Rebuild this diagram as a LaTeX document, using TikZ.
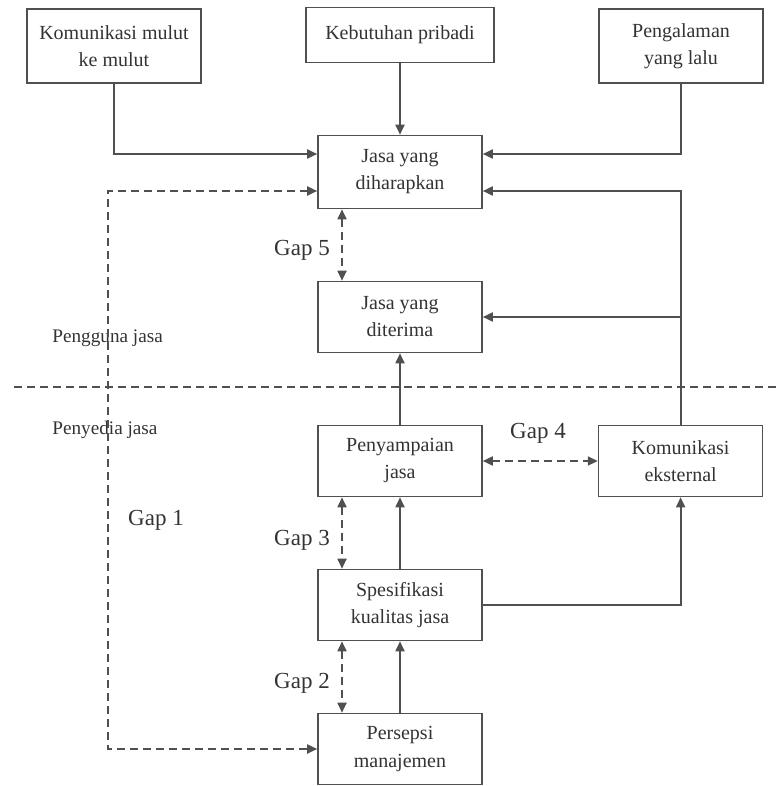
\documentclass[tikz,border=0pt]{standalone}
\usepackage{fontspec}
\setmainfont{Liberation Serif}
\usetikzlibrary{positioning,arrows.meta}
\definecolor{ink}{HTML}{333333}
\definecolor{garis}{HTML}{505050}

\begin{document}
\begin{tikzpicture}[
  x=0.5pt, y=-0.5pt,
  font=\fontsize{10}{13.5}\selectfont,
  >={Triangle[length=5pt, width=4.5pt]},
  node distance=35.7pt,
  box/.style  ={draw=garis, line width=0.8pt, fill=white, text=ink, align=center,
                minimum width=82pt, minimum height=35.5pt, inner sep=2pt},
  flow/.style ={->, draw=garis, line width=0.9pt},
  gapflow/.style={<->, draw=garis, line width=0.9pt, dash pattern=on 4pt off 2.5pt},
  divider/.style={draw=garis, line width=0.8pt, dash pattern=on 4pt off 2.5pt},
  gaplbl/.style={text=ink, font=\fontsize{11.5}{13}\selectfont, inner sep=0pt},
  side/.style ={text=ink, font=\fontsize{9.6}{12}\selectfont, anchor=west, inner sep=0pt},
]
  \useasboundingbox (0,0) rectangle (776,786);

  % --- kolom tengah ---
  \node[box, minimum height=36.5pt] (harap) at (400,172) {Jasa yang\\diharapkan};
  \node[box, below=of harap]  (terima)   {Jasa yang\\diterima};
  \node[box, below=of terima] (sampai)   {Penyampaian\\jasa};
  \node[box, below=of sampai] (spek)     {Spesifikasi\\kualitas jasa};
  \node[box, below=of spek]   (persepsi) {Persepsi\\manajemen};
  \node[box, above=of harap, minimum width=94pt, minimum height=27.5pt] (keb) {Kebutuhan pribadi};

  % --- kotak samping ---
  \node[box, minimum width=87pt, minimum height=37pt] (kom)  at (114,46) {Komunikasi mulut\\ke mulut};
  \node[box, minimum height=37pt] (peng) at (681,46) {Pengalaman\\yang lalu};
  \node[box, right=57.5pt of sampai] (ekst) {Komunikasi\\eksternal};

  % --- garis batas ---
  \coordinate (divL) at (14,387);
  \coordinate (divR) at (776,387);
  \draw[divider] (divL) -- (divR);
  \node[side] (pengguna) at (52,338) {Pengguna jasa};
  \node[side] (penyedia) at (52,430) {Penyedia jasa};

  % --- panah ---
  \draw[flow] (keb) -- (harap);
  \draw[flow] (kom.south) |- ([yshift=9pt]harap.west);
  \draw[flow] (peng.south) |- ([yshift=9pt]harap.east);
  \draw[flow] (ekst.north) |- ([yshift=-9.5pt]harap.east);
  \draw[flow] (ekst.north |- terima.east) -- (terima.east);
  \draw[flow] (sampai) -- (terima);
  \draw[flow] (spek) -- (sampai);
  \draw[flow] (persepsi) -- (spek);
  \draw[flow] (spek.east) -| (ekst.south);

  % --- gap ---
  \coordinate (gapline) at (108,0);
  \draw[gapflow] ([yshift=-9.5pt]harap.west) -| (gapline |- persepsi.west) -- (persepsi.west);
  \draw[gapflow] ([xshift=-29pt]harap.south) -- ([xshift=-29pt]terima.north);
  \draw[gapflow] ([xshift=-29pt]sampai.south) -- ([xshift=-29pt]spek.north);
  \draw[gapflow] ([xshift=-29pt]spek.south) -- ([xshift=-29pt]persepsi.north);
  \draw[gapflow] (sampai.east) -- (ekst.west);
  \node[gaplbl] (gap1) at (156,520) {Gap 1};
  \node[gaplbl] (gap2) at (302,683) {Gap 2};
  \node[gaplbl] (gap3) at (302,540) {Gap 3};
  \node[gaplbl] (gap4) at (538,433) {Gap 4};
  \node[gaplbl] (gap5) at (302,250) {Gap 5};
\end{tikzpicture}
\end{document}
